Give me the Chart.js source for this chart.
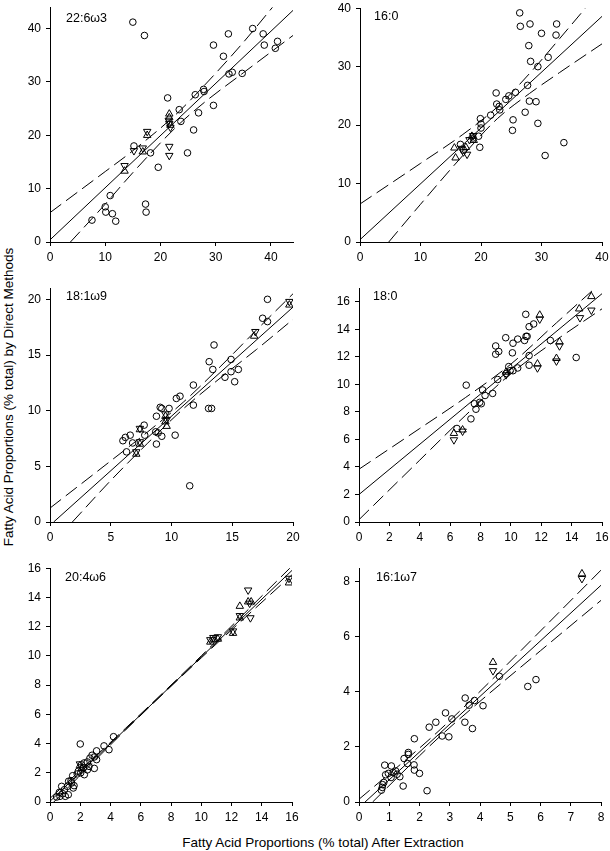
<!DOCTYPE html>
<html>
<head>
<meta charset="utf-8">
<script src="https://cdn.jsdelivr.net/npm/chart.js@4.4.0/dist/chart.umd.min.js"></script>
<style>
  html, body { margin: 0; padding: 0; background: #fff; }
  body { width: 610px; height: 851px; position: relative; overflow: hidden;
         font-family: "Liberation Sans", Arial, sans-serif; color: #000; }
  canvas { position: absolute; }
  .lbl { position: absolute; font-size: 12.5px; white-space: nowrap; transform: translateY(-50%); }
  .ytitle { position: absolute; left: 8px; top: 397px; font-size: 13.5px; white-space: nowrap;
            transform: translate(-50%, -50%) rotate(-90deg); }
  .xtitle { position: absolute; left: 323px; top: 842px; font-size: 13.5px; white-space: nowrap;
            transform: translate(-50%, -50%); }
</style>
</head>
<body>
<div class="ytitle">Fatty Acid Proportions (% total) by Direct Methods</div>
<div class="xtitle">Fatty Acid Proportions (% total) After Extraction</div>
<script>
// ---- data: [after extraction, direct method] ----

// 22:6w3
const p1Circles = [[15.0,41.2],[17.1,38.7],[29.6,36.9],[31.4,34.8],[32.3,39.0],[36.7,40.0],[38.6,39.0],[38.8,36.9],[41.2,37.6],[40.8,36.3],[32.4,31.5],[33.0,31.8],[34.8,31.6],[26.3,27.6],[27.8,28.6],[27.9,28.2],[29.6,25.6],[21.3,27.0],[23.4,24.8],[26.9,24.2],[23.7,22.6],[26.0,21.0],[24.9,16.7],[19.6,14.0],[18.2,16.7],[15.2,18.0],[10.9,8.7],[10.0,6.6],[10.1,5.6],[11.3,5.3],[11.9,3.9],[7.6,4.1],[17.3,7.1],[17.4,5.6]];
const p1Up = [[13.5,13.3],[17.6,20.0],[16.8,16.9],[21.6,24.0],[21.6,23.3],[21.8,21.9]];
const p1Down = [[13.5,14.3],[17.6,20.7],[15.2,17.1],[16.8,17.6],[21.5,22.8],[21.6,22.2],[21.8,21.5],[21.6,17.9],[21.6,16.2]];
const p1Fit = [[0,0.4],[44,43.4]];
const p1Upper = [[0,5.5],[10,13.2],[15,17.1],[23,24.1],[28,29.4],[35,37.4],[40.3,44]];
const p1Lower = [[3.7,0],[10,7.1],[15,13.0],[23,21.7],[28,26.2],[35,31.7],[44,38.7]];
const p1Ticks = [0,10,20,30,40];

// 16:0
const p2Circles = [[26.4,39.2],[26.5,36.9],[28.1,37.3],[30.0,35.7],[32.5,37.3],[32.4,35.4],[27.9,33.6],[31.1,31.6],[28.2,30.9],[29.4,30.0],[27.7,26.8],[22.5,25.5],[25.7,25.6],[24.6,25.0],[24.1,24.4],[22.6,23.6],[23.0,23.2],[23.1,22.6],[21.6,21.7],[19.9,21.1],[20.0,20.2],[20.0,19.5],[27.3,22.2],[28.0,24.1],[29.1,24.0],[25.3,20.9],[25.2,19.1],[29.4,20.3],[33.7,17.0],[30.6,14.8],[19.8,16.2],[19.6,18.1],[18.7,17.8],[16.6,16.7],[17.1,15.7]];
const p2Up = [[15.6,16.1],[15.8,14.4],[17.5,16.2],[18.5,18.1],[18.8,17.4]];
const p2Down = [[16.8,16.0],[17.1,15.4],[17.7,15.0],[18.1,17.5],[18.7,18.2]];
const p2Fit = [[0,0.4],[40,38.6]];
const p2Upper = [[0,6.5],[10,13.45],[17,18.4],[22.7,23.1],[28,28.8],[33,34.8],[37.25,40]];
const p2Lower = [[4.75,0],[10,6.45],[17,14.8],[22.7,21.1],[28,25.4],[33,29.0],[40,33.9]];
const p2Ticks = [0,10,20,30,40];

// 18:1w9
const p3Circles = [[17.9,20.0],[17.5,18.3],[17.9,18.0],[13.5,15.9],[13.1,14.4],[14.9,14.6],[13.4,13.7],[14.9,13.5],[15.5,13.7],[14.4,13.0],[15.2,12.6],[11.8,12.3],[10.7,11.3],[10.4,11.1],[11.8,10.5],[13.05,10.2],[13.3,10.2],[9.07,10.3],[9.2,10.2],[9.8,10.2],[8.76,9.5],[7.75,8.7],[8.7,8.1],[8.9,8.0],[9.2,7.7],[10.3,7.8],[8.76,7.0],[7.8,7.8],[6.6,7.8],[6.2,7.6],[6.0,7.3],[6.8,7.1],[6.3,6.3],[11.5,3.25]];
const p3Up = [[19.7,19.5],[16.8,16.7],[9.5,9.5],[9.6,8.6],[9.5,9.0],[7.4,8.3],[7.4,7.0],[7.1,6.1]];
const p3Down = [[19.7,19.8],[16.9,17.1],[9.5,9.7],[9.6,9.2],[7.4,8.4],[7.4,7.2],[7.1,6.3]];
const p3Fit = [[0.3,0],[20,19.3]];
const p3Upper = [[0,1.25],[5,5.49],[8,8.06],[11,10.79],[14,13.94],[17,17.25],[20,20.5]];
const p3Lower = [[1.84,0],[5,3.73],[8,7.04],[11,10.19],[14,12.92],[17,15.5],[20,18.2]];
const p3Ticks = [0,5,10,15,20];

// 18:0
const p4Circles = [[10.98,15.1],[9.66,13.4],[10.45,13.3],[10.14,13.0],[10.9,13.2],[11.0,13.5],[11.07,13.5],[11.2,14.2],[11.5,14.4],[12.6,13.2],[9.0,12.8],[9.2,12.4],[9.0,12.2],[10.1,12.3],[11.2,12.1],[11.2,11.4],[14.3,11.96],[10.45,11.2],[9.86,11.3],[10.14,11.0],[9.13,10.36],[9.7,10.8],[7.06,9.95],[8.8,9.35],[8.14,9.6],[8.3,9.2],[7.6,8.6],[8.05,8.6],[7.95,8.7],[7.7,8.2],[7.37,7.5],[6.45,6.8],[9.95,11.0]];
const p4Up = [[6.25,6.45],[6.82,6.7],[9.68,10.9],[11.9,15.05],[11.75,11.5],[13.2,13.1],[13.0,11.9],[14.5,15.5],[15.3,16.4]];
const p4Down = [[6.25,5.97],[6.82,6.6],[9.68,10.7],[11.9,14.75],[11.75,11.2],[13.2,12.8],[13.0,11.7],[14.55,14.85],[15.3,15.4]];
const p4Fit = [[0,2.0],[16,16.6]];
const p4Upper = [[0,3.84],[4,6.8],[7,9.04],[10,11.48],[13,14.48],[15.5,16.96]];
const p4Lower = [[0,0.17],[4,4.5],[7,7.74],[10,10.78],[13,13.24],[16,15.5]];
const p4Ticks = [0,2,4,6,8,10,12,14,16];

// 20:4w6
const p5Circles = [[2.0,3.97],[3.57,3.84],[3.9,3.58],[3.08,3.5],[2.78,3.2],[2.93,3.08],[3.08,2.9],[2.64,3.0],[2.93,2.3],[2.47,2.74],[2.25,2.67],[2.58,2.44],[2.47,2.2],[2.2,2.33],[1.87,2.1],[2.03,2.0],[2.27,1.87],[1.5,1.8],[1.8,1.92],[1.23,1.42],[1.43,1.3],[1.54,0.96],[1.15,1.07],[0.77,1.07],[0.95,0.84],[0.62,0.66],[0.84,0.57],[1.21,0.5],[0.66,0.39],[1.01,0.39],[0.44,0.34],[1.59,1.12],[1.39,1.46],[4.2,4.47]];
const p5Up = [[15.8,15.0],[12.55,13.4],[13.1,13.7],[13.3,13.7],[12.55,12.6],[12.1,11.55],[10.6,10.95],[10.8,11.1],[11.1,11.15],[1.98,2.5],[2.1,2.3]];
const p5Down = [[15.8,15.3],[13.1,14.5],[13.2,13.6],[13.25,12.6],[12.55,12.75],[12.1,11.7],[10.6,11.1],[10.8,11.25],[11.1,11.3],[1.98,2.6],[2.1,2.4]];
const p5Fit = [[0,0.05],[16,15.85]];
const p5Upper = [[0,0.25],[5,5.05],[10,10.0],[16,16.15]];
const p5Lower = [[0.25,0],[5,4.93],[10,9.86],[16,15.55]];
const p5XTicks = [0,2,4,6,8,10,12,14,16];
const p5YTicks = [0,2,4,6,8,10,12,14,16];

// 16:1w7
const p6Circles = [[4.64,4.57],[5.58,4.2],[5.85,4.45],[3.51,3.78],[3.64,3.52],[3.82,3.69],[4.1,3.5],[2.86,3.24],[3.07,3.02],[2.54,2.9],[2.32,2.72],[3.5,2.9],[3.75,2.67],[2.75,2.4],[2.97,2.37],[1.83,2.3],[1.63,1.8],[1.63,1.73],[1.49,1.58],[0.85,1.34],[1.07,1.31],[1.82,1.35],[1.6,1.4],[1.83,1.16],[2.0,1.04],[1.46,0.58],[2.25,0.41],[0.97,1.04],[1.13,1.07],[1.21,1.13],[1.26,1.01],[1.06,0.89],[1.35,0.92],[0.88,0.99],[0.82,0.71],[0.78,0.63],[0.74,0.43],[0.77,0.53]];
const p6Up = [[7.37,8.3],[4.43,5.08]];
const p6Down = [[7.37,8.12],[4.43,4.77]];
const p6Fit = [[0.2,0],[8,7.88]];
const p6Upper = [[0,0.1],[2,1.96],[2.7,2.65],[4,4.02],[6,6.22],[8,8.43]];
const p6Lower = [[0.45,0],[2,1.68],[2.7,2.41],[4,3.66],[6,5.5],[8,7.33]];
const p6XTicks = [0,1,2,3,4,5,6,7,8];
const p6YTicks = [0,2,4,6,8];

const panelNames = ['22:6\u03c93', '16:0', '18:1\u03c99', '18:0', '20:4\u03c96', '16:1\u03c97'];

// ---- layout (plot-area boxes in page pixels) ----
const FONT = '"Liberation Sans", Arial, sans-serif';
const AX_W = 45, AX_H = 28, PAD_T = 12, PAD_R = 14;

const panels = [
  { box: [50, 7, 243, 235],  xMax: 44,  yMax: 44,  xTicks: p1Ticks,  yTicks: p1Ticks,
    circles: p1Circles, up: p1Up, down: p1Down, fit: p1Fit, upper: p1Upper, lower: p1Lower, label: [66, 18] },
  { box: [360, 8, 242, 234], xMax: 40,  yMax: 40,  xTicks: p2Ticks,  yTicks: p2Ticks,
    circles: p2Circles, up: p2Up, down: p2Down, fit: p2Fit, upper: p2Upper, lower: p2Lower, label: [374, 16] },
  { box: [50, 288, 243, 234], xMax: 20, yMax: 21,  xTicks: p3Ticks,  yTicks: p3Ticks,
    circles: p3Circles, up: p3Up, down: p3Down, fit: p3Fit, upper: p3Upper, lower: p3Lower, label: [66, 296] },
  { box: [359, 288, 243, 234], xMax: 16, yMax: 17, xTicks: p4Ticks,  yTicks: p4Ticks,
    circles: p4Circles, up: p4Up, down: p4Down, fit: p4Fit, upper: p4Upper, lower: p4Lower, label: [373, 296] },
  { box: [50, 568, 242, 234], xMax: 16, yMax: 16,  xTicks: p5XTicks, yTicks: p5YTicks,
    circles: p5Circles, up: p5Up, down: p5Down, fit: p5Fit, upper: p5Upper, lower: p5Lower, label: [65, 577] },
  { box: [359, 568, 242, 234], xMax: 8, yMax: 8.5, xTicks: p6XTicks, yTicks: p6YTicks,
    circles: p6Circles, up: p6Up, down: p6Down, fit: p6Fit, upper: p6Upper, lower: p6Lower, label: [376, 577] }
];

const pts = arr => arr.map(([x, y]) => ({ x, y }));

function lineSet(data, dash) {
  return {
    data: pts(data), showLine: true, pointRadius: 0, borderColor: '#000', borderWidth: 1,
    borderDash: dash, cubicInterpolationMode: 'monotone', fill: false, order: 2
  };
}

function markerSet(data, style, rot, r) {
  return {
    data: pts(data), showLine: false, pointStyle: style, pointRotation: rot, pointRadius: r,
    pointBorderColor: '#000', pointBackgroundColor: 'rgba(0,0,0,0)', pointBorderWidth: 1, order: 1
  };
}

function axis(min, max, ticks, horizontal) {
  return {
    type: 'linear', min: min, max: max,
    afterBuildTicks: s => { s.ticks = ticks.map(v => ({ value: v })); },
    afterFit: s => { if (horizontal) s.height = AX_H; else s.width = AX_W; },
    grid: { drawOnChartArea: false, drawTicks: true, tickLength: 4, color: '#000', lineWidth: 1 },
    border: { display: true, color: '#000', width: 1 },
    ticks: { color: '#000', padding: horizontal ? 4 : 5, autoSkip: false, maxRotation: 0,
             font: { family: FONT, size: 12 } }
  };
}

panels.forEach((p, i) => {
  const [left, top, w, h] = p.box;
  const cw = AX_W + w + PAD_R, ch = PAD_T + h + AX_H;
  const canvas = document.createElement('canvas');
  canvas.width = cw; canvas.height = ch;
  canvas.style.left = (left - AX_W) + 'px';
  canvas.style.top = (top - PAD_T) + 'px';
  canvas.style.width = cw + 'px';
  canvas.style.height = ch + 'px';
  document.body.appendChild(canvas);

  const lbl = document.createElement('div');
  lbl.className = 'lbl';
  lbl.textContent = panelNames[i];
  lbl.style.left = p.label[0] + 'px';
  lbl.style.top = p.label[1] + 'px';
  document.body.appendChild(lbl);

  new Chart(canvas, {
    type: 'scatter',
    data: {
      datasets: [
        lineSet(p.fit, []),
        lineSet(p.upper, [14, 6]),
        lineSet(p.lower, [14, 6]),
        markerSet(p.circles, 'circle', 0, 3.3),
        markerSet(p.up, 'triangle', 0, 4.3),
        markerSet(p.down, 'triangle', 180, 4.3)
      ]
    },
    options: {
      responsive: false, animation: false, devicePixelRatio: 1,
      layout: { padding: { top: PAD_T, right: PAD_R, left: 0, bottom: 0 } },
      plugins: { legend: { display: false }, tooltip: { enabled: false } },
      scales: {
        x: axis(0, p.xMax, p.xTicks, true),
        y: axis(0, p.yMax, p.yTicks, false)
      }
    }
  });
});
</script>
</body>
</html>
